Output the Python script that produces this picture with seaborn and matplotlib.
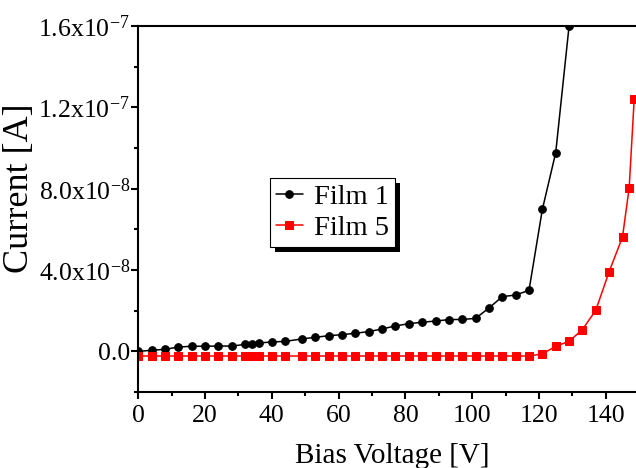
import numpy as np
import pandas as pd
import seaborn as sns
import matplotlib
matplotlib.use("Agg")
import matplotlib.pyplot as plt
import matplotlib.patheffects as pe
from matplotlib.ticker import MultipleLocator

#Data (voltage in V, current in units of 1e-8 A)
film1_v = [0, 4, 8, 12, 16, 20, 24, 28, 32, 34, 36, 40, 44, 49, 53, 57, 61, 65, 69,
           73, 77, 81, 85, 89, 93, 97, 101, 105, 109, 113, 117, 121, 125, 129]
film1_i = [0.0, 0.05, 0.1, 0.21, 0.25, 0.25, 0.26, 0.26, 0.34, 0.38, 0.41, 0.46, 0.49,
           0.61, 0.69, 0.77, 0.82, 0.89, 0.97, 1.10, 1.25, 1.36, 1.43, 1.49, 1.56, 1.57,
           1.62, 2.13, 2.69, 2.77, 3.0, 6.98, 9.77, 16.0]

film5_v = [0, 4, 8, 12, 16, 20, 24, 28, 32, 34, 36, 40, 44, 49, 53, 57, 61, 65, 69,
           73, 77, 81, 85, 89, 93, 97, 101, 105, 109, 113, 117, 121, 125, 129, 133,
           137, 141, 145, 147, 148.5]
film5_i = [-0.23, -0.23, -0.23, -0.23, -0.23, -0.23, -0.23, -0.23, -0.23, -0.23, -0.23,
           -0.23, -0.23, -0.23, -0.23, -0.23, -0.23, -0.23, -0.23, -0.23, -0.23, -0.23,
           -0.23, -0.23, -0.23, -0.23, -0.23, -0.23, -0.23, -0.23, -0.23, -0.13, 0.25,
           0.49, 1.07, 2.02, 3.92, 5.62, 8.05, 12.4]

y_ticks = [0.0, 4e-8, 8e-8, 1.2e-7, 1.6e-7]
y_tick_labels = ["0.0", "4.0x10$^{-8}$", "8.0x10$^{-8}$", "1.2x10$^{-7}$", "1.6x10$^{-7}$"]
x_ticks = [0, 20, 40, 60, 80, 100, 120, 140]

#Style
sns.set_style("ticks")
plt.rcParams["font.family"] = ["Liberation Serif", "DejaVu Serif"]
plt.rcParams["mathtext.default"] = "regular"
for key in ["text.color", "axes.labelcolor", "xtick.color", "ytick.color", "axes.edgecolor"]:
    plt.rcParams[key] = "black"

#Build frames
df1 = pd.DataFrame({"V": film1_v, "I": np.array(film1_i) * 1e-8})
df5 = pd.DataFrame({"V": film5_v, "I": np.array(film5_i) * 1e-8})

fig = plt.figure(figsize=(6.36, 4.68), dpi=100)
ax = fig.add_axes([138.3/636, 76/468, 500.9/636, 366/468])

sns.lineplot(data=df1, x="V", y="I", ax=ax, color="black", marker="o", markersize=5.5,
             markeredgecolor="black", linewidth=1.1, label="Film 1", sort=False)
sns.lineplot(data=df5, x="V", y="I", ax=ax, color="red", marker="s", markersize=5.2,
             markeredgecolor="red", linewidth=1.1, label="Film 5", sort=False)

#Axes limits and ticks
ax.set_xlim(0, 150)
ax.set_ylim(-2e-8, 1.6e-7)
ax.set_xticks(x_ticks)
ax.set_xticklabels([str(x) for x in x_ticks])
ax.set_yticks(y_ticks)
ax.set_yticklabels(y_tick_labels)
ax.xaxis.set_minor_locator(MultipleLocator(10))
ax.yaxis.set_minor_locator(MultipleLocator(2e-8))

ax.tick_params(which="major", direction="out", length=5, width=1.5, labelsize=18.5,
               colors="black")
ax.tick_params(which="minor", direction="out", length=3, width=1.5)
ax.tick_params(axis="y", pad=1)
ax.tick_params(axis="x", pad=4)

for side in ["left", "bottom", "top"]:
    ax.spines[side].set_linewidth(1.5)
    ax.spines[side].set_color("black")
ax.spines["top"].set_visible(True)
ax.spines["right"].set_visible(False)

#Labels
ax.set_xlabel("Bias Voltage [V]", fontsize=21)
ax.set_ylabel("Current [A]", fontsize=26)
ax.xaxis.set_label_coords(0.506, -0.14)
ax.yaxis.set_label_coords(-0.205, 0.557)

#Legend with hard black shadow
leg = ax.legend(loc="upper left", bbox_to_anchor=(0.263, 0.585), borderaxespad=0,
                fontsize=20.5, frameon=True, fancybox=False, handlelength=0.95,
                handletextpad=0.4, labelspacing=0.2, borderpad=0.2)
frame = leg.get_frame()
frame.set_edgecolor("black")
frame.set_linewidth(0.8)
frame.set_alpha(1)
frame.set_path_effects([pe.SimplePatchShadow(offset=(3.5, -3.5), shadow_rgbFace="black",
                                             alpha=1), pe.Normal()])

plt.savefig("out.png", dpi=100)
plt.close()
